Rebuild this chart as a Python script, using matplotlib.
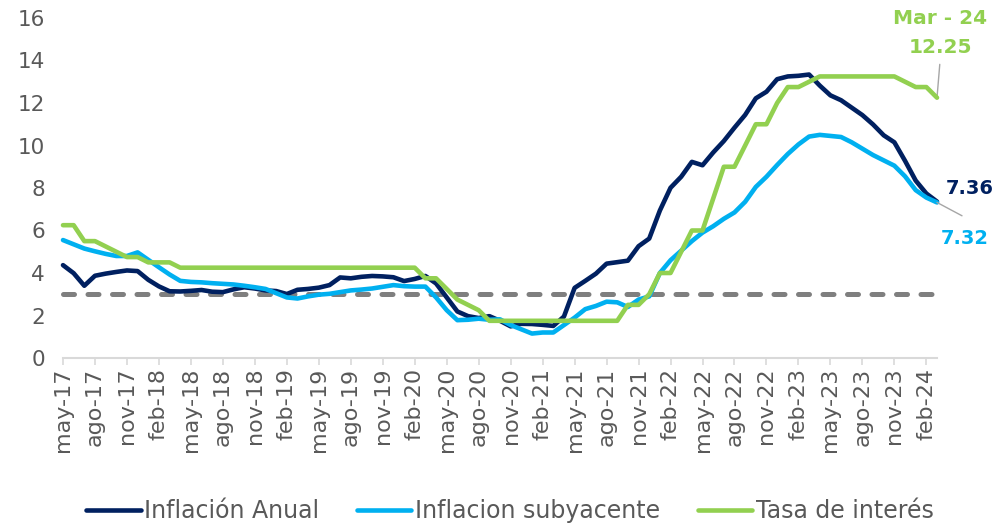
import matplotlib
matplotlib.use("Agg")
import matplotlib.pyplot as plt

# monthly data, may-17 .. mar-24
mes_abrev = ["ene", "feb", "mar", "abr", "may", "jun",
             "jul", "ago", "sep", "oct", "nov", "dic"]
meses = [f"{mes_abrev[(4 + k) % 12]}-{17 + (4 + k) // 12}" for k in range(83)]

inflacion_anual = [
    4.37, 3.99, 3.40, 3.87, 3.97, 4.05, 4.12, 4.09,
    3.68, 3.37, 3.14, 3.13, 3.16, 3.20, 3.12, 3.10, 3.23, 3.33, 3.27, 3.18,
    3.15, 3.01, 3.21, 3.25, 3.31, 3.43, 3.79, 3.75, 3.82, 3.86, 3.84, 3.80,
    3.62, 3.72, 3.86, 3.51, 2.85, 2.19, 1.97, 1.88, 1.97, 1.75, 1.49, 1.61,
    1.60, 1.56, 1.51, 1.95, 3.30, 3.63, 3.97, 4.44, 4.51, 4.58, 5.26, 5.62,
    6.94, 8.01, 8.53, 9.23, 9.07, 9.67, 10.21, 10.84, 11.44, 12.22, 12.53, 13.12,
    13.25, 13.28, 13.34, 12.82, 12.36, 12.13, 11.78, 11.43, 10.99, 10.48, 10.15, 9.28,
    8.35, 7.74, 7.36,
]

inflacion_subyacente = [
    5.55, 5.35, 5.15, 5.02, 4.90, 4.80, 4.80, 4.97,
    4.62, 4.27, 3.93, 3.63, 3.58, 3.56, 3.52, 3.49, 3.46, 3.40, 3.33, 3.25,
    3.05, 2.85, 2.80, 2.90, 2.98, 3.02, 3.10, 3.18, 3.22, 3.27, 3.35, 3.43,
    3.38, 3.36, 3.36, 2.85, 2.25, 1.78, 1.80, 1.85, 1.80, 1.82, 1.55, 1.35,
    1.15, 1.20, 1.20, 1.55, 1.90, 2.30, 2.45, 2.65, 2.62, 2.40, 2.75, 2.90,
    4.00, 4.60, 5.05, 5.50, 5.90, 6.20, 6.55, 6.85, 7.35, 8.05, 8.53, 9.08,
    9.60, 10.05, 10.42, 10.50, 10.45, 10.40, 10.15, 9.85, 9.55, 9.30, 9.05, 8.55,
    7.90, 7.55, 7.32,
]

tasa_interes = (
    [6.25, 6.25, 5.5, 5.5, 5.25, 5.0, 4.75, 4.75, 4.5, 4.5, 4.5]
    + [4.25] * 23
    + [3.75, 3.75, 3.25, 2.75, 2.5, 2.25]
    + [1.75] * 13
    + [2.5, 2.5, 3.0, 4.0, 4.0, 5.0, 6.0, 6.0, 7.5, 9.0, 9.0, 10.0,
       11.0, 11.0, 12.0, 12.75, 12.75, 13.0]
    + [13.25] * 8
    + [13.0, 12.75, 12.75, 12.25]
)

meta = 3.0

NAVY = "#002060"
AZUL = "#00B0F0"
VERDE = "#92D050"
GRIS = "#595959"

plt.rcParams["font.family"] = "DejaVu Sans"

fig = plt.figure(figsize=(10.03, 5.24), dpi=100)
ax = fig.add_axes([63 / 1003, 1 - 358 / 524, 874 / 1003, 340 / 524])

x = list(range(len(meses)))

ax.plot(x, [meta] * len(x), color="#7F7F7F", lw=3.6, dashes=(2.2, 2.7),
        dash_capstyle="round", zorder=1, clip_on=False)

estilo = dict(lw=3.3, solid_joinstyle="round", solid_capstyle="round", clip_on=False)
ax.plot(x, inflacion_anual, color=NAVY, label="Inflación Anual", zorder=2, **estilo)
ax.plot(x, inflacion_subyacente, color=AZUL, label="Inflacion subyacente", zorder=3, **estilo)
ax.plot(x, tasa_interes, color=VERDE, label="Tasa de interés", zorder=4, **estilo)

ax.set_xlim(0, len(x) - 1)
ax.set_ylim(0, 16)
ax.set_yticks(range(0, 17, 2))
ax.set_xticks(x[::3])
ax.set_xticklabels(meses[::3], rotation=90)

for s in ["top", "right", "left"]:
    ax.spines[s].set_visible(False)
ax.spines["bottom"].set_color("#D9D9D9")
ax.spines["bottom"].set_linewidth(1.5)
ax.tick_params(axis="x", length=5, width=1.2, color="#D9D9D9",
               labelsize=16, labelcolor=GRIS, pad=2)
ax.tick_params(axis="y", length=0, labelsize=15.5, labelcolor=GRIS, pad=13)

# end-of-series labels
fig.text(0.937, 0.9647, "Mar - 24", color=VERDE, fontsize=14.5, fontweight="bold",
         ha="center", va="center")
fig.text(0.938, 0.9084, f"{tasa_interes[-1]:.2f}", color=VERDE, fontsize=14.5,
         fontweight="bold", ha="center", va="center")
fig.text(0.967, 0.6403, f"{inflacion_anual[-1]:.2f}", color=NAVY, fontsize=14,
         fontweight="bold", ha="center", va="center")
fig.text(0.9616, 0.5448, f"{inflacion_subyacente[-1]:.2f}", color=AZUL, fontsize=14,
         fontweight="bold", ha="center", va="center")

linea = dict(arrowstyle="-", color="#A6A6A6", lw=1, shrinkA=0, shrinkB=0)
ax.annotate("", xy=(x[-1], tasa_interes[-1]), xytext=(2, 24),
            textcoords="offset points", arrowprops=linea, annotation_clip=False)
ax.annotate("", xy=(x[-1], inflacion_subyacente[-1]), xytext=(18, -9.6),
            textcoords="offset points", arrowprops=linea, annotation_clip=False)

fig.legend(loc="center", bbox_to_anchor=(0.5085, 0.025), ncol=3, frameon=False,
           fontsize=17, handlelength=2.3, handletextpad=0.15, columnspacing=1.6,
           labelcolor=GRIS)

fig.savefig("out.png", dpi=100)
